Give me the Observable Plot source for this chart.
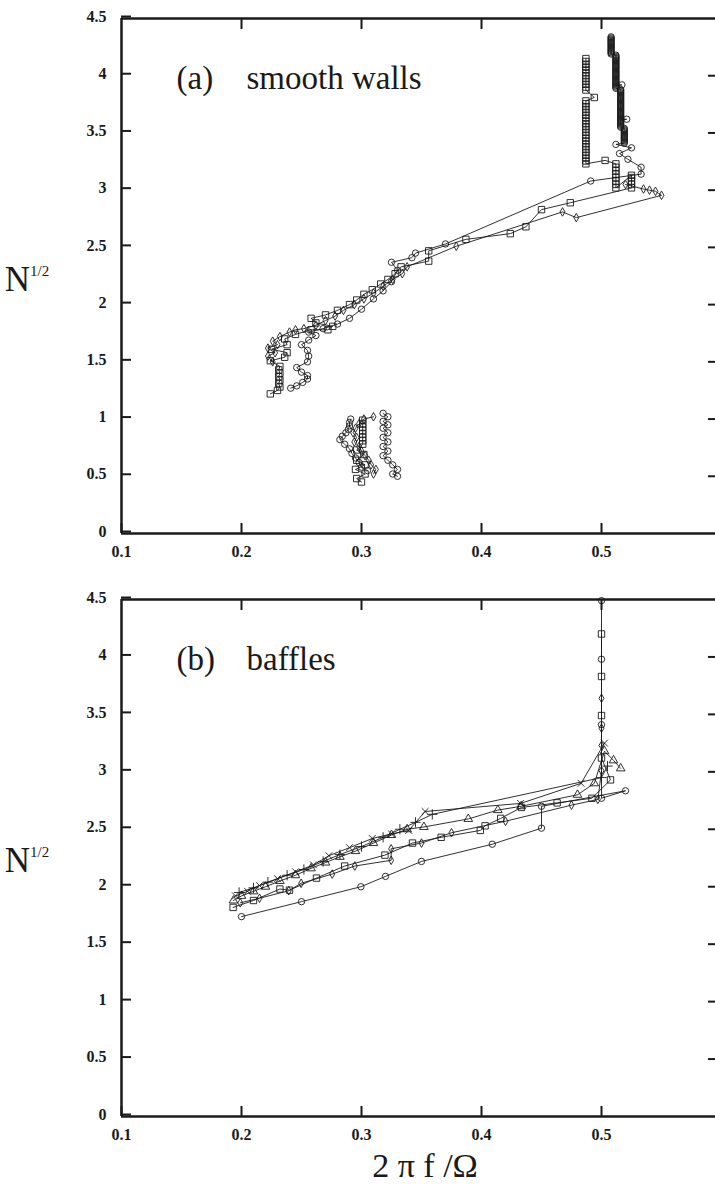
<!DOCTYPE html>
<html><head><meta charset="utf-8">
<script src="https://cdn.jsdelivr.net/npm/d3@7"></script>
<script src="https://cdn.jsdelivr.net/npm/@observablehq/plot@0.6"></script>
<style>
html,body{margin:0;padding:0;background:#fff;}
body{width:715px;height:1184px;overflow:hidden;position:relative;}
.panel{position:absolute;left:0;}
</style>
</head><body>
<div id="pa" class="panel" style="top:0"></div>
<div id="pb" class="panel" style="top:565px"></div>
<script>
// ---------- tick values & texts ----------
const xTicks = [0.1, 0.2, 0.3, 0.4, 0.5];
const yTicks = [0, 0.5, 1, 1.5, 2, 2.5, 3, 3.5, 4, 4.5];
const xLabel = "2 π f /Ω";
const yLabelMain = "N";
const yLabelSup = "1/2";
const panelATitle = ["(a)", "smooth walls"];
const panelBTitle = ["(b)", "baffles"];

// ---------- panel (a) smooth walls : [2πf/Ω, N^1/2] ----------
const smoothSquaresMain = [
  [0.224,1.22],[0.230,1.25],[0.232,1.28],[0.231,1.31],[0.232,1.34],[0.231,1.37],[0.232,1.40],[0.231,1.43],[0.232,1.46],
  [0.224,1.51],[0.236,1.54],[0.238,1.58],[0.225,1.61],[0.238,1.65],[0.236,1.70],[0.245,1.74],[0.258,1.78],[0.272,1.78],
  [0.276,1.81],[0.262,1.84],[0.258,1.88],[0.270,1.91],[0.280,1.95],[0.290,2.00],[0.296,2.04],[0.302,2.09],[0.309,2.13],
  [0.316,2.18],[0.322,2.22],[0.328,2.27],[0.333,2.33],[0.356,2.38],[0.356,2.47],[0.387,2.57],[0.424,2.62],[0.437,2.68],
  [0.450,2.83],[0.474,2.89],[0.525,3.02],[0.525,3.05],[0.525,3.08],[0.525,3.11],[0.525,3.13],[0.512,3.02],[0.512,3.05],
  [0.512,3.08],[0.512,3.11],[0.512,3.14],[0.512,3.17],[0.512,3.20],[0.512,3.23],[0.503,3.26],[0.487,3.23],[0.487,3.255],
  [0.487,3.28],[0.487,3.305],[0.487,3.33],[0.487,3.355],[0.487,3.38],[0.487,3.405],[0.487,3.43],[0.487,3.455],[0.487,3.48],
  [0.487,3.505],[0.487,3.53],[0.487,3.555],[0.487,3.58],[0.487,3.605],[0.487,3.63],[0.487,3.655],[0.487,3.68],[0.487,3.705],
  [0.487,3.73],[0.487,3.755],[0.487,3.78],[0.494,3.81],[0.487,3.875],[0.487,3.90],[0.487,3.925],[0.487,3.95],[0.487,3.975],
  [0.487,4.00],[0.487,4.025],[0.487,4.05],[0.487,4.075],[0.487,4.10],[0.487,4.125],[0.487,4.15]
];
const smoothSquaresLow = [
  [0.300,0.45],[0.296,0.48],[0.303,0.52],[0.295,0.56],[0.303,0.60],[0.296,0.64],[0.302,0.69],[0.296,0.73],
  [0.301,0.78],[0.301,0.81],[0.301,0.84],[0.301,0.87],[0.301,0.90],[0.301,0.93],[0.301,0.96],[0.301,0.99]
];
const smoothCirclesMain = [
  [0.241,1.27],[0.246,1.29],[0.251,1.32],[0.255,1.35],[0.255,1.38],[0.250,1.41],[0.246,1.45],[0.255,1.50],[0.256,1.55],
  [0.255,1.60],[0.250,1.65],[0.256,1.69],[0.262,1.73],[0.256,1.76],[0.268,1.79],[0.280,1.83],[0.290,1.88],[0.300,1.96],
  [0.310,2.05],[0.318,2.12],[0.325,2.20],[0.330,2.30],[0.325,2.37],[0.342,2.41],[0.345,2.45],[0.370,2.53],[0.491,3.08],
  [0.533,3.14],[0.533,3.20],[0.522,3.27],[0.515,3.32],[0.525,3.37],[0.512,3.40],
  [0.519,3.41],[0.519,3.42],[0.519,3.43],[0.519,3.44],[0.519,3.45],[0.519,3.46],[0.519,3.47],[0.519,3.48],[0.519,3.49],
  [0.519,3.50],[0.519,3.51],[0.519,3.52],[0.519,3.53],[0.519,3.54],
  [0.516,3.55],[0.516,3.56],[0.516,3.57],[0.516,3.58],[0.516,3.59],[0.516,3.60],[0.516,3.61],[0.521,3.62],[0.516,3.62],
  [0.516,3.63],[0.516,3.64],[0.516,3.65],[0.516,3.66],[0.516,3.67],[0.516,3.68],[0.516,3.69],[0.516,3.70],[0.516,3.71],
  [0.516,3.72],[0.516,3.73],[0.516,3.74],[0.516,3.75],[0.516,3.76],[0.516,3.77],[0.516,3.78],[0.516,3.79],[0.516,3.80],
  [0.516,3.81],[0.516,3.82],[0.516,3.83],[0.516,3.84],[0.516,3.85],[0.516,3.86],[0.516,3.87],[0.516,3.88],
  [0.512,3.89],[0.512,3.90],[0.512,3.91],[0.517,3.92],[0.512,3.92],[0.512,3.93],[0.512,3.94],[0.512,3.95],[0.512,3.96],
  [0.512,3.97],[0.512,3.98],[0.512,3.99],[0.512,4.00],[0.512,4.01],[0.512,4.02],[0.512,4.03],[0.512,4.04],[0.512,4.05],
  [0.512,4.06],[0.512,4.07],[0.512,4.08],[0.512,4.09],[0.512,4.10],[0.512,4.11],[0.512,4.12],[0.512,4.13],[0.512,4.14],
  [0.512,4.15],[0.512,4.16],[0.512,4.17],[0.512,4.18],
  [0.508,4.19],[0.508,4.20],[0.508,4.21],[0.508,4.22],[0.508,4.23],[0.508,4.24],[0.508,4.25],[0.508,4.26],[0.508,4.27],
  [0.508,4.28],[0.508,4.29],[0.508,4.30],[0.508,4.31],[0.508,4.32],[0.508,4.33],[0.508,4.34]
];
const smoothCirclesLowL = [
  [0.291,1.00],[0.290,0.97],[0.290,0.94],[0.289,0.91],[0.287,0.88],[0.284,0.85],[0.282,0.82],[0.286,0.78],
  [0.290,0.74],[0.292,0.70],[0.295,0.66],[0.298,0.62],[0.300,0.58],[0.305,0.55]
];
const smoothCirclesLowR = [
  [0.318,1.05],[0.322,1.02],[0.318,0.98],[0.322,0.95],[0.318,0.92],[0.322,0.88],[0.318,0.84],[0.322,0.80],
  [0.318,0.76],[0.322,0.72],[0.318,0.68],[0.322,0.64],[0.326,0.60],[0.330,0.56],[0.326,0.52],[0.330,0.50]
];
const smoothDiamondsMain = [
  [0.226,1.50],[0.222,1.55],[0.228,1.58],[0.222,1.62],[0.230,1.65],[0.226,1.68],[0.232,1.72],[0.240,1.76],[0.245,1.78],
  [0.252,1.79],[0.262,1.82],[0.270,1.86],[0.278,1.90],[0.285,1.95],[0.294,2.00],[0.302,2.05],[0.310,2.10],[0.318,2.16],
  [0.326,2.22],[0.334,2.27],[0.338,2.33],[0.379,2.51],[0.4675,2.81],[0.479,2.76],[0.550,2.955],[0.545,2.99],[0.540,3.00],
  [0.535,3.01],[0.520,3.05]
];
const smoothDiamondsLow = [
  [0.310,1.02],[0.302,1.00],[0.298,0.96],[0.295,0.92],[0.293,0.88],[0.296,0.84],[0.294,0.80],[0.298,0.76],
  [0.300,0.72],[0.303,0.68],[0.306,0.64],[0.308,0.60],[0.312,0.56],[0.310,0.52]
];

// ---------- panel (b) baffles ----------
const baffleCircles = [
  [0.200,1.74],[0.250,1.87],[0.2995,2.00],[0.320,2.09],[0.350,2.22],[0.409,2.37],[0.450,2.51],[0.450,2.70],
  [0.520,2.835],[0.500,2.77],[0.500,3.41],[0.500,3.98],[0.500,4.49]
];
const baffleSquares = [
  [0.193,1.82],[0.210,1.88],[0.232,1.98],[0.240,1.97],[0.2625,2.075],[0.286,2.18],[0.3195,2.275],[0.3425,2.38],
  [0.3664,2.43],[0.399,2.49],[0.403,2.53],[0.416,2.595],[0.4333,2.69],[0.463,2.73],[0.492,2.77],[0.5075,2.93],
  [0.500,3.12],[0.500,3.49],[0.500,3.83],[0.500,4.20]
];
const baffleDiamonds = [
  [0.199,1.86],[0.215,1.90],[0.2394,1.965],[0.2497,2.03],[0.2756,2.11],[0.2944,2.18],[0.3247,2.23],[0.3247,2.33],
  [0.350,2.38],[0.375,2.47],[0.420,2.57],[0.475,2.71],[0.497,2.76],[0.500,3.01],[0.500,3.23],[0.500,3.38],[0.500,3.64]
];
const baffleTriangles = [
  [0.1933,1.88],[0.200,1.92],[0.210,1.96],[0.220,2.00],[0.232,2.05],[0.245,2.10],[0.258,2.16],[0.270,2.21],
  [0.282,2.26],[0.295,2.31],[0.310,2.38],[0.325,2.45],[0.338,2.50],[0.352,2.52],[0.389,2.59],[0.4136,2.667],
  [0.433,2.70],[0.480,2.80],[0.494,2.90],[0.5025,3.18],[0.510,3.10],[0.516,3.03]
];
const baffleCrosses = [
  [0.195,1.92],[0.205,1.96],[0.215,2.01],[0.230,2.07],[0.245,2.13],[0.260,2.19],[0.2728,2.27],[0.290,2.34],
  [0.309,2.42],[0.325,2.46],[0.3394,2.49],[0.353,2.655],[0.4325,2.725],[0.483,2.90],[0.5025,3.25]
];
const bafflePluses = [
  [0.198,1.95],[0.210,1.99],[0.222,2.04],[0.238,2.10],[0.252,2.15],[0.268,2.22],[0.282,2.28],[0.300,2.35],
  [0.318,2.43],[0.332,2.50],[0.345,2.56],[0.359,2.63],[0.500,2.95],[0.505,3.05]
];

// ---------- drawing ----------
const ink = "#1a1a1a";
const serif = "'Liberation Serif', 'Times New Roman', serif";
const symR = {square: 3.6, circle: 3.2, diamond: 2.6, triangle: 3.2, times: 3.2, plus: 3.4};

function seriesMarks(arr, symbol) {
  const rows = arr.map(([x, y]) => ({x, y}));
  return [
    Plot.line(rows, {x: "x", y: "y", stroke: ink, strokeWidth: 0.9}),
    Plot.dot(rows, {x: "x", y: "y", symbol, r: symR[symbol], stroke: ink, strokeWidth: 0.9, fill: "none"})
  ];
}

function panel(series, title, height, marginTop, marginBottom) {
  return Plot.plot({
    width: 715, height, marginTop, marginBottom, marginLeft: 121, marginRight: 0,
    x: {domain: [0.1, 0.595]},
    y: {domain: [0, 4.5]},
    style: {fontFamily: serif, fontSize: "16px", fontWeight: "bold", color: ink, background: "white", overflow: "visible"},
    marks: [
      Plot.axisX(xTicks, {anchor: "bottom", tickSize: -10, tickPadding: 22, strokeWidth: 2, tickFormat: d => String(d), label: null, fontFamily: serif}),
      Plot.axisX(xTicks.slice(1), {anchor: "top", tickSize: -10, strokeWidth: 2, tickFormat: () => "", label: null}),
      Plot.axisY(yTicks, {anchor: "left", tickSize: -10, tickPadding: 25, strokeWidth: 2, dy: -2, tickFormat: d => String(d), label: null, fontFamily: serif}),
      Plot.axisY(yTicks.slice(1, -1), {anchor: "right", tickSize: -8, strokeWidth: 2, tickFormat: () => "", label: null}),
      Plot.ruleY([0, 4.5], {stroke: ink, strokeWidth: 2.5}),
      Plot.ruleX([0.1], {stroke: ink, strokeWidth: 2.5}),
      ...series.flatMap(([arr, sym]) => seriesMarks(arr, sym)),
      Plot.text([title[0]], {frameAnchor: "top-left", dx: 55, dy: 70, lineAnchor: "bottom", textAnchor: "start", fontFamily: serif, fontSize: 33, fontWeight: "normal", fill: ink}),
      Plot.text([title[1]], {frameAnchor: "top-left", dx: 125, dy: 70, lineAnchor: "bottom", textAnchor: "start", fontFamily: serif, fontSize: 33, fontWeight: "normal", fill: ink})
    ]
  });
}

function addYLabel(svg, baseline) {
  const t = d3.select(svg).append("text")
    .attr("x", 27).attr("y", baseline)
    .attr("font-family", serif).attr("font-size", 35).attr("font-weight", "normal")
    .attr("fill", ink).text(yLabelMain);
  t.append("tspan").attr("dy", -15).attr("font-size", 15).text(yLabelSup);
}

const svgA = panel([
  [smoothSquaresMain, "square"], [smoothSquaresLow, "square"],
  [smoothCirclesMain, "circle"], [smoothCirclesLowL, "circle"], [smoothCirclesLowR, "circle"],
  [smoothDiamondsMain, "diamond"], [smoothDiamondsLow, "diamond"]
], panelATitle, 565, 18, 32);
addYLabel(svgA, 291);
document.getElementById("pa").appendChild(svgA);

const svgB = panel([
  [baffleCircles, "circle"], [baffleSquares, "square"], [baffleDiamonds, "diamond"],
  [baffleTriangles, "triangle"], [baffleCrosses, "times"], [bafflePluses, "plus"]
], panelBTitle, 619, 34, 68);
addYLabel(svgB, 307);
d3.select(svgB).append("text")
  .attr("x", 425).attr("y", 612).attr("text-anchor", "middle")
  .attr("font-family", serif).attr("font-size", 34).attr("font-weight", "normal")
  .attr("fill", ink).text(xLabel);
document.getElementById("pb").appendChild(svgB);
</script>
</body></html>
